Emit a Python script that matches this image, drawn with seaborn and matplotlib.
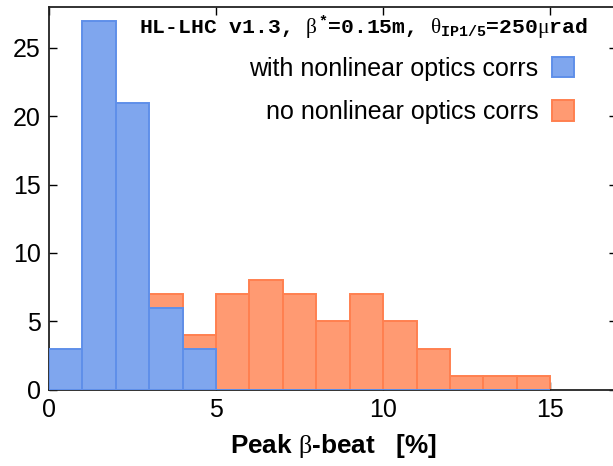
import numpy as np
import pandas as pd
import matplotlib
matplotlib.use("Agg")
import matplotlib.pyplot as plt
import seaborn as sns

# ---- data (counts per 1%-wide bin, from 0 to 15 %) ----
bin_edges = list(range(0, 16))
with_corr = [3, 27, 21, 6, 3, 0, 0, 0, 0, 0, 0, 0, 0, 0, 0]
no_corr = [0, 1, 3, 7, 4, 7, 8, 7, 5, 7, 5, 3, 1, 1, 1]
label_with = "with nonlinear optics corrs"
label_no = "no nonlinear optics corrs"
title_text = r"HL-LHC v1.3, $\beta^{*}$=0.15m, $\theta_{\mathrm{IP1/5}}$=250$\mu$rad"
xlabel = r"Peak $\beta$-beat   [%]"
xticks = [0, 5, 10, 15]
yticks = [0, 5, 10, 15, 20, 25]

centers = [e + 0.5 for e in bin_edges[:-1]]
df_with = pd.DataFrame({"x": centers, "w": with_corr})
df_no = pd.DataFrame({"x": centers, "w": no_corr})

sns.set_style("ticks")
plt.rcParams["font.family"] = ["Liberation Sans", "DejaVu Sans"]
plt.rcParams["mathtext.fontset"] = "custom"
plt.rcParams["mathtext.rm"] = "Liberation Mono:bold"
plt.rcParams["mathtext.it"] = "Liberation Serif"
plt.rcParams["mathtext.bf"] = "Liberation Sans:bold"
plt.rcParams["text.color"] = "black"
plt.rcParams["axes.labelcolor"] = "black"

fig = plt.figure(figsize=(6.13, 4.66), dpi=100)
ax = fig.add_axes([49 / 613, 76.5 / 466, 568 / 613, 382.5 / 466])

blue_face, blue_edge = "#7fa6ee", "#5f8fe9"
orange_face, orange_edge = "#ff9a72", "#ff8050"

sns.histplot(data=df_no, x="x", weights="w", bins=bin_edges, ax=ax,
             color=orange_face, edgecolor=orange_edge, linewidth=1.4,
             alpha=1, label=label_no, zorder=2)
sns.histplot(data=df_with, x="x", weights="w", bins=bin_edges, ax=ax,
             color=blue_face, edgecolor=blue_edge, linewidth=1.4,
             alpha=1, label=label_with, zorder=3)

ax.set_xlim(0, 17)
ax.set_ylim(0, 28)
ax.set_xticks(xticks)
ax.set_yticks(yticks)
ax.set_ylabel("")
ax.set_xlabel(xlabel, fontsize=18.8, fontweight="bold", labelpad=7,
              color="black")
ax.tick_params(direction="in", length=6, width=1, top=True, right=True,
               labelsize=18, colors="black", pad=6)
for s in ax.spines.values():
    s.set_visible(True)
    s.set_linewidth(1.3)
    s.set_color("#222222")

handles, labels = ax.get_legend_handles_labels()
order = [labels.index(label_with), labels.index(label_no)]
leg = ax.legend([handles[i] for i in order], [labels[i] for i in order],
                loc="upper right", bbox_to_anchor=((574 - 49) / 568, 0.870),
                bbox_transform=ax.transAxes, frameon=False, markerfirst=False,
                fontsize=18, handlelength=0.88, handleheight=0.9,
                labelspacing=0.77, handletextpad=0.55, borderaxespad=0,
                borderpad=0)
for t in leg.get_texts():
    t.set_color("black")

ax.text((588 - 49) / 568, 0.932, title_text, transform=ax.transAxes,
        ha="right", va="baseline", fontsize=15.4,
        fontfamily="Liberation Mono", fontweight="bold", zorder=5)

fig.savefig("out.png", dpi=100)
